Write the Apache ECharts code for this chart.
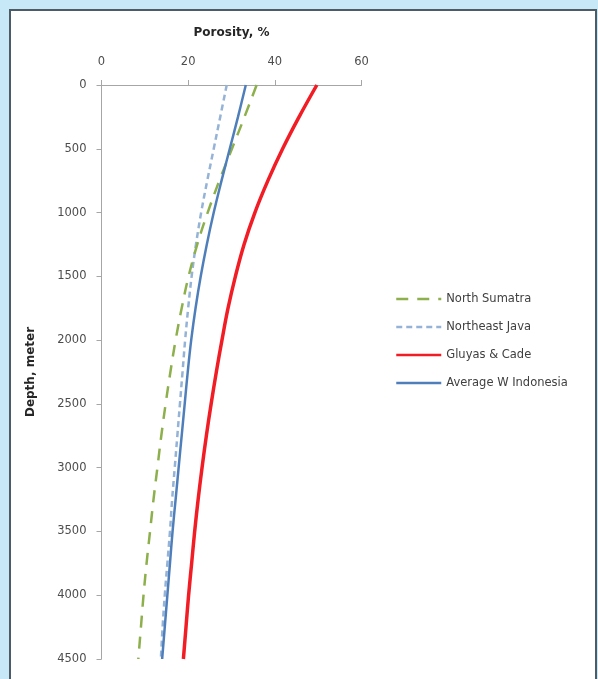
<!DOCTYPE html>
<html>
<head>
<meta charset="utf-8">
<script src="https://cdn.jsdelivr.net/npm/echarts@6/dist/echarts.min.js"></script>
<style>
  html, body { margin: 0; padding: 0; background: #c7e8f7; }
  #chart { width: 598px; height: 679px; }
</style>
</head>
<body>
<div id="chart"></div>
<script>
// Depth in metres (vertical axis, increasing downward)
const depths = [0, 250, 500, 750, 1000, 1250, 1500, 1750, 2000, 2250, 2500,
                2750, 3000, 3250, 3500, 3750, 4000, 4250, 4500];

// Porosity (%) at each depth
const northSumatra  = [35.8, 33.0, 30.1, 27.2, 24.5, 22.1, 20.1, 18.5, 17.1, 15.9, 14.8,
                       13.8, 12.9, 12.0, 11.2, 10.4, 9.7, 9.1, 8.5];
const northeastJava = [28.9, 27.4, 25.9, 24.4, 23.0, 21.8, 20.8, 20.0, 19.3, 18.7, 18.1,
                       17.5, 16.9, 16.3, 15.8, 15.2, 14.6, 14.1, 13.7];
const gluyasCade    = [49.7, 45.6, 41.8, 38.4, 35.4, 32.9, 30.9, 29.2, 27.8, 26.5, 25.3,
                       24.2, 23.2, 22.3, 21.5, 20.8, 20.1, 19.5, 18.9];
const averageWIndo  = [33.3, 31.5, 29.6, 27.7, 25.9, 24.3, 22.9, 21.7, 20.7, 19.9, 19.2,
                       18.5, 17.8, 17.1, 16.4, 15.8, 15.2, 14.6, 14.0];

const seriesNames = ['North Sumatra', 'Northeast Java', 'Gluyas & Cade', 'Average W Indonesia'];

const pairs = (vals) => vals.map((v, i) => [v, depths[i]]);

const font = '"DejaVu Sans", Verdana, sans-serif';

const chart = echarts.init(document.getElementById('chart'));

chart.setOption({
  backgroundColor: '#c7e8f7',
  animation: false,
  graphic: [{
    type: 'rect',
    z: -10,
    shape: { x: 10, y: 10, width: 586, height: 700 },
    style: { fill: '#ffffff', stroke: '#4d5b66', lineWidth: 2 }
  }],
  grid: { left: 101.5, top: 85, width: 260, height: 574 },
  xAxis: {
    type: 'value',
    position: 'top',
    min: 0, max: 60, interval: 20,
    name: 'Porosity, %',
    nameLocation: 'middle',
    nameGap: 46,
    nameTextStyle: { fontFamily: font, fontWeight: 'bold', fontSize: 12, color: '#262626' },
    axisLine: { show: true, lineStyle: { color: '#a6a6a6', width: 1 } },
    axisTick: { show: true, length: 5, lineStyle: { color: '#a6a6a6' } },
    axisLabel: { margin: 17, fontFamily: font, fontSize: 11.5, color: '#4d4d4d' },
    splitLine: { show: false }
  },
  yAxis: {
    type: 'value',
    inverse: true,
    min: 0, max: 4500, interval: 500,
    name: 'Depth, meter',
    nameLocation: 'middle',
    nameGap: 65,
    nameRotate: 90,
    nameTextStyle: { fontFamily: font, fontWeight: 'bold', fontSize: 12, color: '#262626' },
    axisLine: { show: true, lineStyle: { color: '#a6a6a6', width: 1 } },
    axisTick: { show: true, length: 5, lineStyle: { color: '#a6a6a6' } },
    axisLabel: {
      margin: 15, fontFamily: font, fontSize: 11.5, color: '#4d4d4d',
      formatter: (v) => String(v)
    },
    splitLine: { show: false }
  },
  legend: {
    orient: 'vertical',
    left: 395,
    top: 291,
    padding: 0,
    itemWidth: 45,
    itemHeight: 14,
    itemGap: 12,
    itemStyle: { color: 'transparent', borderColor: 'transparent', borderWidth: 0 },
    lineStyle: { width: 2.5 },
    textStyle: { fontFamily: font, fontSize: 11.5, color: '#404040', lineHeight: 16 },
    data: seriesNames
  },
  series: [
    {
      name: seriesNames[0], type: 'line', smooth: 0.4, symbol: 'none',
      data: pairs(northSumatra),
      lineStyle: { color: '#8db04c', width: 2.5, type: [12, 9] },
      itemStyle: { color: '#8db04c' }, z: 3
    },
    {
      name: seriesNames[1], type: 'line', smooth: 0.4, symbol: 'none',
      data: pairs(northeastJava),
      lineStyle: { color: '#95b3d7', width: 2.5, type: [6, 4] },
      itemStyle: { color: '#95b3d7' }, z: 2
    },
    {
      name: seriesNames[2], type: 'line', smooth: 0.4, symbol: 'none',
      data: pairs(gluyasCade),
      lineStyle: { color: '#f21c24', width: 3.5 },
      itemStyle: { color: '#f21c24' }, z: 4
    },
    {
      name: seriesNames[3], type: 'line', smooth: 0.4, symbol: 'none',
      data: pairs(averageWIndo),
      lineStyle: { color: '#4f7fbb', width: 2.5 },
      itemStyle: { color: '#4f7fbb' }, z: 5
    }
  ]
});
</script>
</body>
</html>
